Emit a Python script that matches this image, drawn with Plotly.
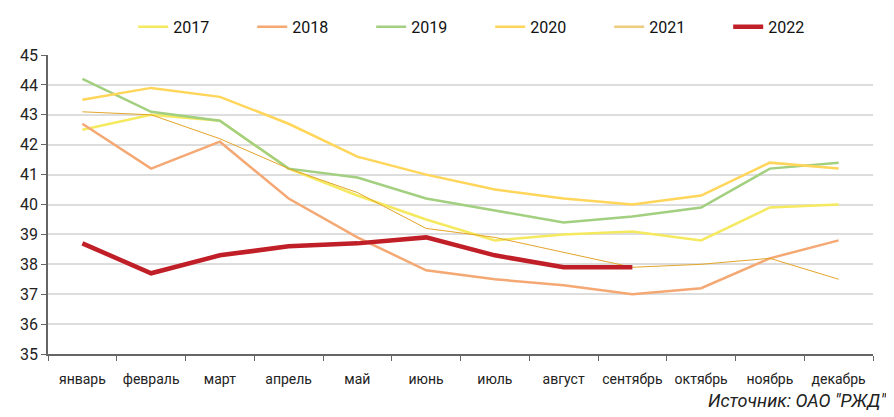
import plotly.graph_objects as go

months = ["январь", "февраль", "март", "апрель", "май", "июнь", "июль",
          "август", "сентябрь", "октябрь", "ноябрь", "декабрь"]
y2017 = [42.5, 43.0, 42.8, 41.2, 40.3, 39.5, 38.8, 39.0, 39.1, 38.8, 39.9, 40.0]
y2018 = [42.7, 41.2, 42.1, 40.2, 38.9, 37.8, 37.5, 37.3, 37.0, 37.2, 38.2, 38.8]
y2019 = [44.2, 43.1, 42.8, 41.2, 40.9, 40.2, 39.8, 39.4, 39.6, 39.9, 41.2, 41.4]
y2020 = [43.5, 43.9, 43.6, 42.7, 41.6, 41.0, 40.5, 40.2, 40.0, 40.3, 41.4, 41.2]
y2021 = [43.1, 43.0, 42.2, 41.2, 40.4, 39.2, 38.9, 38.4, 37.9, 38.0, 38.2, 37.5]
y2022 = [38.7, 37.7, 38.3, 38.6, 38.7, 38.9, 38.3, 37.9, 37.9]
yticks = [35, 36, 37, 38, 39, 40, 41, 42, 43, 44, 45]

FONT = "Roboto, sans-serif"

fig = go.Figure()
fig.add_trace(go.Scatter(x=months, y=y2017, name="2017", mode="lines",
                         line=dict(color="#F5E960", width=2.5)))
fig.add_trace(go.Scatter(x=months, y=y2018, name="2018", mode="lines",
                         line=dict(color="#F4A873", width=2.5)))
fig.add_trace(go.Scatter(x=months, y=y2019, name="2019", mode="lines",
                         line=dict(color="#A3CF80", width=2.5)))
fig.add_trace(go.Scatter(x=months, y=y2020, name="2020", mode="lines",
                         line=dict(color="#FFD55A", width=2.5)))
fig.add_trace(go.Scatter(x=months, y=y2021, name="2021", mode="lines",
                         showlegend=False,
                         line=dict(color="#E3A52A", width=1)))
fig.add_trace(go.Scatter(x=[None], y=[None], name="2021", mode="lines",
                         line=dict(color="#EDCC7E", width=2.5)))
fig.add_trace(go.Scatter(x=months[:len(y2022)], y=y2022, name="2022", mode="lines",
                         line=dict(color="#C01F27", width=4.5)))

fig.update_layout(
    width=886, height=409,
    margin=dict(l=40, r=21, t=47, b=63, autoexpand=False),
    paper_bgcolor="white", plot_bgcolor="white",
    font=dict(family=FONT, size=15, color="#222"),
    legend=dict(orientation="h", x=0.536, xanchor="center",
                y=1.094, yref="paper", yanchor="middle",
                font=dict(size=16, color="#111"),
                itemwidth=30, traceorder="normal",
                entrywidth=74, entrywidthmode="pixels"),
    showlegend=True,
)

fig.update_xaxes(
    type="category", range=[-0.5, 11.5],
    showline=True, linecolor="#666", linewidth=1.5,
    ticks="outside", tickson="boundaries", ticklen=5, tickcolor="#666",
    showgrid=False, tickangle=0, ticklabelstandoff=11,
    tickfont=dict(size=14, color="#222"),
)
fig.update_yaxes(
    range=[35, 45], tickvals=yticks,
    showline=True, linecolor="#666", linewidth=1.5,
    ticks="outside", ticklen=5, tickcolor="#666",
    showgrid=True, gridcolor="#DDDDDD", gridwidth=2,
    zeroline=False, tickfont=dict(size=16, color="#222"),
)

fig.add_annotation(text="<i>Источник: ОАО \"РЖД\"</i>", xref="paper", yref="paper",
                   x=1.018, xanchor="right", y=-0.157, yanchor="middle", showarrow=False,
                   font=dict(family=FONT, size=18, color="#222"))

fig.write_html("out.html")
